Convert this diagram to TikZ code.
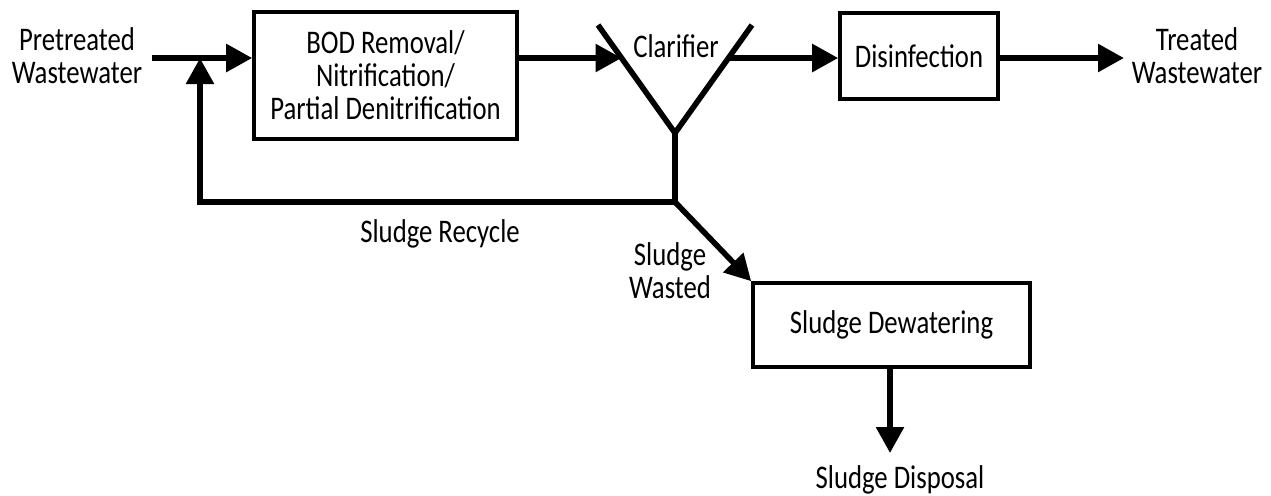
\documentclass[tikz,border=0pt]{standalone}
\usepackage{fontspec}
\setmainfont{Carlito}[FakeStretch=0.81]
\usetikzlibrary{arrows.meta}

\begin{document}
\begin{tikzpicture}[x=0.5pt, y=-0.5pt, font=\fontsize{16.5}{16.5}\selectfont]
			\tikzstyle{unit}=[
			draw,
			rectangle,
			line width=1.8pt,
			align=center,
			inner sep=0pt
			]
			\tikzstyle{tag}=[
			align=center,
			inner sep=0pt
			]
			\tikzstyle{pipe}=[line width=2.8pt]
			\tikzstyle{flow}=[pipe, -{Triangle[length=13pt, width=13.5pt]}]
			\useasboundingbox (0,0) rectangle (1271,495);
			% units
			\node[unit, minimum width=131.5pt, minimum height=63.5pt] (BOD) at (385.5,75.5) {BOD Removal/\\Nitrification/\\Partial Denitrification};
			\node[unit, minimum width=79pt, minimum height=43pt] (DIS) at (919,56) {Disinfection};
			\node[unit, minimum width=138.5pt, minimum height=42pt] (DEW) at (891.5,325) {Sludge Dewatering};
			% texts
			\node[tag] (IN) at (77,56) {Pretreated\\Wastewater};
			\node[tag] (OUT) at (1197,56) {Treated\\Wastewater};
			\node[tag, anchor=base] (CLAR) at (676,57) {Clarifier};
			\node[tag, anchor=base] (REC) at (440,242) {Sludge Recycle};
			\node[tag] (WAS) at (670,271) {Sludge\\Wasted};
			\node[tag, anchor=base] (DISP) at (900,488) {Sludge Disposal};
			% clarifier and junctions
			\coordinate (START) at (152,58);
			\coordinate (MIX) at (200,58);
			\coordinate (CL) at (598,25);
			\coordinate (CR) at (752,25);
			\coordinate (VTX) at (675,133);
			\coordinate (JUNC) at (675,202);
			\coordinate (END) at (1124,58);
			\coordinate (DROP) at (890,453);
			\coordinate (CIN) at (intersection of CL--VTX and START--END);
			\coordinate (COUT) at (intersection of CR--VTX and START--END);
			\draw[pipe] (CL) -- (VTX) -- (CR);
			\draw[pipe] (VTX) -- (JUNC);
			% flows
			\draw[flow] (START) -- (START -| BOD.west);
			\draw[flow] (BOD.east |- START) -- (CIN);
			\draw[flow] (COUT) -- (COUT -| DIS.west);
			\draw[flow] (DIS.east |- END) -- (END);
			\draw[flow] (JUNC) -| (MIX);
			\draw[flow] (JUNC) -- (DEW.north west);
			\draw[flow] (DEW.south -| DROP) -- (DROP);
		\end{tikzpicture}
\end{document}
